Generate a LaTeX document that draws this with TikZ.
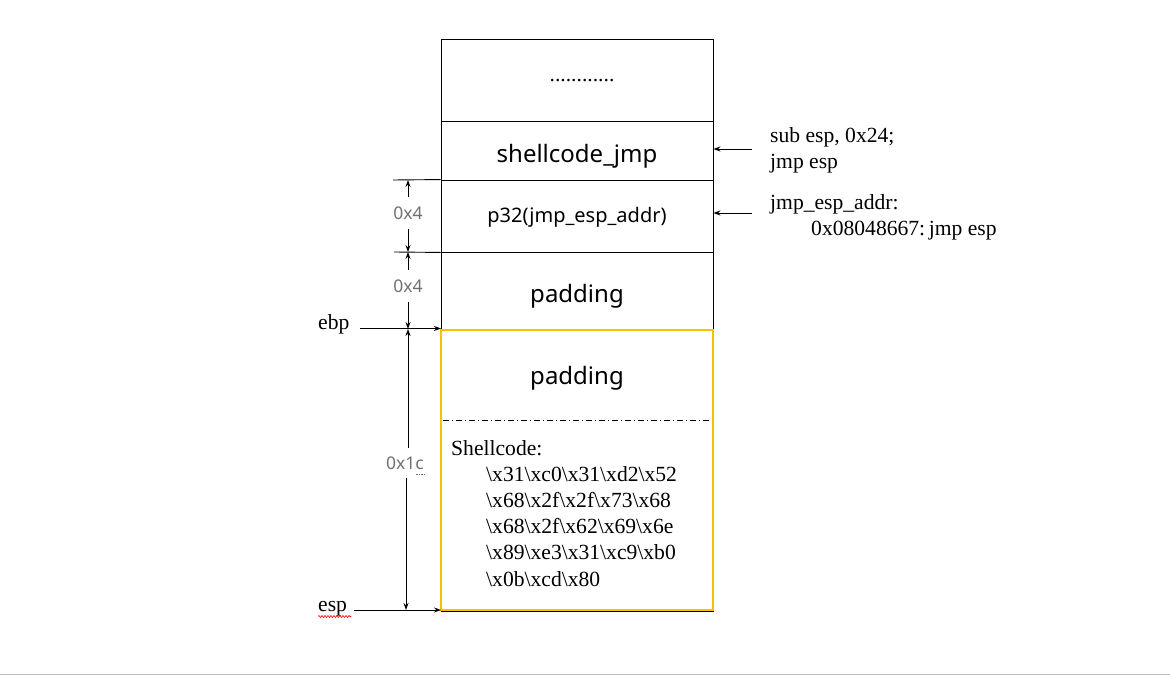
\documentclass[tikz,border=0pt]{standalone}
\usepackage{fontspec}
\setmainfont{Liberation Serif}
\setsansfont{Noto Sans}
\usetikzlibrary{arrows.meta, positioning, decorations.pathmorphing}
\definecolor{boxgold}{HTML}{FFC000}
\definecolor{lblgray}{HTML}{707070}
\newcommand{\hx}[1]{\textbackslash x#1}

\begin{document}
\begin{tikzpicture}[
    x=1pt, y=-1pt,
    >={Stealth[length=7pt,width=5pt]},
    cell/.style={rectangle, draw, minimum width=272pt, inner sep=0pt, line width=0.9pt},
    celltext/.style={anchor=base, inner sep=0pt, font=\sffamily\fontsize{24}{28}\selectfont},
    sizelbl/.style={font=\sffamily\fontsize{17.5}{20}\selectfont, text=lblgray, inner sep=0pt},
    note/.style={font=\fontsize{21.6}{26.2}\selectfont, align=left, inner sep=0pt},
    ptr/.style={->, line width=0.9pt}
]
\useasboundingbox (0,0) rectangle (1170,676);

% stack cells
\node[cell, minimum height=82pt] (top) at (577,80) {};
\node[cell, minimum height=59pt] (jmp) at (577,150.5) {};
\node[cell, minimum height=72pt] (addr) at (577,216) {};
\node[cell, minimum height=77pt] (pad) at (577,290.5) {};
\node[note, anchor=base] (dots) at (582,82) {............};
\node[celltext] (jmptext) at (577,162.7) {shellcode\_jmp};
\node[celltext, font=\sffamily\fontsize{20}{24}\selectfont] (addrtext) at (577,222.7) {p32(jmp\_esp\_addr)};
\node[celltext] (padtext) at (577,302.7) {padding};

% buffer
\draw[line width=0.9pt] (441,611.5) -- (714,611.5);
\node[cell, draw=boxgold, line width=2pt, minimum height=280pt] (buf) at (577,470) {};
\node[celltext] (pad2) at (577,384.7) {padding};
\draw[dash pattern=on 6pt off 3pt on 1pt off 3pt, line width=0.8pt] (443,420) -- (712,420);
\node[note, anchor=north west] (code) at (451,440) {Shellcode:\\
    \hspace*{35pt}\hx{31}\hx{c0}\hx{31}\hx{d2}\hx{52}\\
    \hspace*{35pt}\hx{68}\hx{2f}\hx{2f}\hx{73}\hx{68}\\
    \hspace*{35pt}\hx{68}\hx{2f}\hx{62}\hx{69}\hx{6e}\\
    \hspace*{35pt}\hx{89}\hx{e3}\hx{31}\hx{c9}\hx{b0}\\
    \hspace*{35pt}\hx{0b}\hx{cd}\hx{80}};

% size marks
\draw[line width=0.9pt] (393,180) -- (addr.north west);
\draw[line width=0.9pt] (394,252) -- (addr.south west);
\coordinate (d0) at (408,180);
\coordinate (d1) at (408,252);
\coordinate (d2) at (408,329);
\coordinate (d3) at (406,610);
\node[sizelbl] (s1) at (408,213) {0x4};
\node[sizelbl] (s2) at (408,286) {0x4};
\node[sizelbl] (s3) at (405,463) {0x1c};
\draw[ptr, shorten <=9pt] (s1) -- (d0);
\draw[ptr, shorten <=9pt] (s1) -- (d1);
\draw[ptr, shorten <=9pt] (s2) -- (d1);
\draw[ptr, shorten <=9pt] (s2) -- (d2);
\draw[ptr, shorten <=8pt] (s3.north -| d2) -- (d2);
\draw[ptr, shorten <=8pt] (s3.south -| d3) -- (d3);
\draw[lblgray, dash pattern=on 1.5pt off 1pt, line width=0.8pt] (416,474) -- (425,474);

% frame pointers
\node[note, anchor=base west] (ebp) at (318,330) {ebp};
\node[note, anchor=base west] (esp) at (318,611) {esp};
\coordinate (ebptip) at (441,328.5);
\coordinate (esptip) at (441,610);
\draw[ptr, shorten <=10pt] (ebp.east |- ebptip) -- (ebptip);
\draw[ptr, shorten <=7pt] (esp.east |- esptip) -- (esptip);
\draw[red, line width=0.6pt, decorate, decoration={snake, amplitude=1pt, segment length=3pt}] (318,616.5) -- (351,616.5);

% notes on the right
\node[note, anchor=west] (n1) at (770,150) {sub esp, 0x24;\\jmp esp};
\node[note, anchor=base west] (n2) at (770,210) {jmp\_esp\_addr:};
\node[note, anchor=base west] (n3) at (811,236) {0x08048667:\,jmp esp};
\coordinate (a1) at (752,149);
\coordinate (a2) at (752,213);
\draw[ptr] (a1) -- (a1 -| jmp.east);
\draw[ptr] (a2) -- (a2 -| addr.east);

% page edge
\draw[black!25, line width=1.5pt] (0,674.5) -- (1170,674.5);
\end{tikzpicture}
\end{document}
